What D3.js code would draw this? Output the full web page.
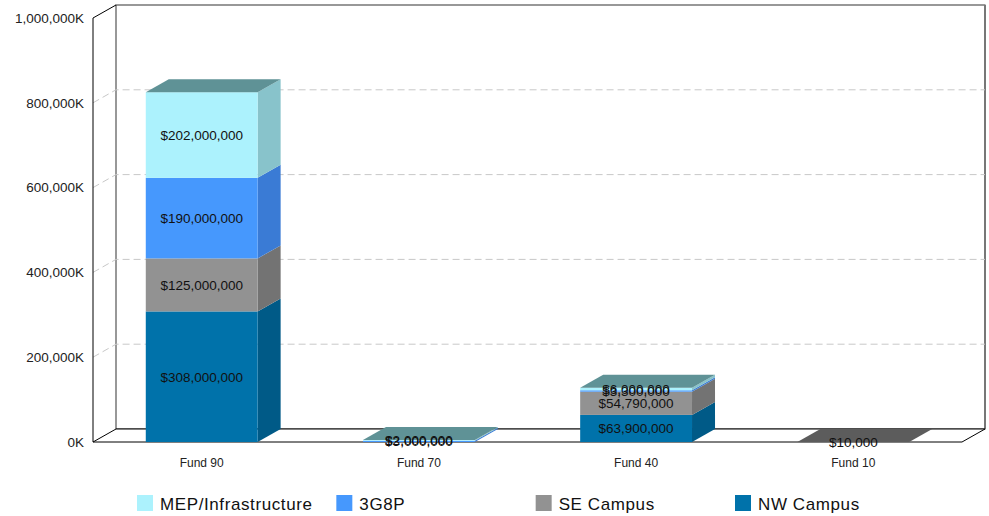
<!DOCTYPE html>
<html>
<head>
<meta charset="utf-8">
<script src="https://cdn.jsdelivr.net/npm/d3@7"></script>
<style>
  body { margin: 0; background: #fff; }
  svg { font-family: "Liberation Sans", Arial, sans-serif; }
</style>
</head>
<body>
<div id="app"></div>
<script>
// data
const funds = ['Fund 90', 'Fund 70', 'Fund 40', 'Fund 10'];
const seriesNames = ['NW Campus', 'SE Campus', '3G8P', 'MEP/Infrastructure'];
const nwCampus = [308000000, 0, 63900000, 0];
const seCampus = [125000000, 0, 54790000, 10000];
const g3g8p = [190000000, 3000000, 3300000, 0];
const mepInfra = [202000000, 2000000, 6000000, 0];
const yTicks = [0, 200000000, 400000000, 600000000, 800000000, 1000000000];
const legendOrder = ['MEP/Infrastructure', '3G8P', 'SE Campus', 'NW Campus'];

const colors = {
  'NW Campus': { front: '#0072aa', side: '#005a87', top: '#005080' },
  'SE Campus': { front: '#929292', side: '#737373', top: '#5c5c5c' },
  '3G8P': { front: '#4698fd', side: '#3a7bd5', top: '#2e65ad' },
  'MEP/Infrastructure': { front: '#acf2fd', side: '#88c3cb', top: '#5f9296' }
};

function render() {
  const width = 989;
  const height = 516;
  const dx = 23, dy = -13;
  const left = 93, right = 962, bottom = 442, top = 18;

  const svg = d3.select('#app').append('svg').attr('width', width).attr('height', height);

  const yScale = d3.scaleLinear([0, 1000000000], [bottom, top]);
  const xScale = d3.scaleBand(funds, [left, right]).paddingInner(0.485).paddingOuter(0.243);

  // back wall
  svg.append('rect')
    .attr('x', left + dx).attr('y', top + dy)
    .attr('width', right - left).attr('height', bottom - top)
    .attr('fill', '#fff').attr('stroke', '#333');
  svg.append('line')
    .attr('x1', right + dx).attr('x2', right + dx)
    .attr('y1', top + dy).attr('y2', bottom + dy)
    .attr('stroke', '#777').attr('stroke-width', 2);

  // grid lines
  const grid = yTicks.filter(d => d > 0 && d < 1000000000);
  svg.selectAll('path.grid').data(grid).join('path')
    .attr('class', 'grid')
    .attr('d', d => `M${left},${yScale(d)}L${left + dx},${yScale(d) + dy}L${right + dx},${yScale(d) + dy}`)
    .attr('fill', 'none').attr('stroke', '#c8c8c8').attr('stroke-dasharray', '7,4');

  // floor
  svg.append('path')
    .attr('d', `M${left},${bottom}L${left + dx},${bottom + dy}L${right + dx},${bottom + dy}L${right},${bottom}Z`)
    .attr('fill', '#fff').attr('stroke', '#000');

  // left axis edge
  svg.append('path')
    .attr('d', `M${left},${bottom}L${left},${top}L${left + dx},${top + dy}`)
    .attr('fill', 'none').attr('stroke', '#000');

  // y tick labels
  const fmt = d3.format(',');
  svg.selectAll('text.ytick').data(yTicks).join('text')
    .attr('class', 'ytick')
    .attr('x', left - 9).attr('y', d => yScale(d))
    .attr('dy', '0.36em')
    .attr('text-anchor', 'end')
    .attr('font-size', 13.5)
    .attr('fill', '#222')
    .text(d => fmt(d / 1000) + 'K');

  // stacked data
  const table = funds.map((f, i) => ({
    fund: f,
    'NW Campus': nwCampus[i],
    'SE Campus': seCampus[i],
    '3G8P': g3g8p[i],
    'MEP/Infrastructure': mepInfra[i]
  }));
  const stacked = d3.stack().keys(seriesNames)(table);

  const bw = xScale.bandwidth();
  const labels = [];
  funds.forEach((f, i) => {
    const x0 = xScale(f);
    const g = svg.append('g').attr('class', 'bar');
    let topKey = null, topVal = 0;
    stacked.forEach(s => {
      const v0 = s[i][0], v1 = s[i][1];
      if (v1 - v0 <= 0) return;
      const c = colors[s.key];
      const yb = yScale(v0), yt = yScale(v1);
      g.append('path')
        .attr('d', `M${x0 + bw},${yb}L${x0 + bw + dx},${yb + dy}L${x0 + bw + dx},${yt + dy}L${x0 + bw},${yt}Z`)
        .attr('fill', c.side);
      g.append('rect')
        .attr('x', x0).attr('y', yt)
        .attr('width', bw).attr('height', Math.max(0, yb - yt))
        .attr('fill', c.front);
      topKey = s.key;
      topVal = v1;
      labels.push({ x: x0 + bw / 2, y: (yb + yt) / 2, v: v1 - v0 });
    });
    if (topKey) {
      const yt = yScale(topVal);
      g.append('path')
        .attr('d', `M${x0},${yt}L${x0 + dx},${yt + dy}L${x0 + bw + dx},${yt + dy}L${x0 + bw},${yt}Z`)
        .attr('fill', colors[topKey].top);
    }
  });

  // value labels (small segments overlap, as in the original)
  svg.selectAll('text.val').data(labels).join('text')
    .attr('class', 'val')
    .attr('x', d => d.x).attr('y', d => d.y)
    .attr('dy', '0.36em')
    .attr('text-anchor', 'middle')
    .attr('font-size', 13.5)
    .attr('fill', '#111')
    .text(d => '$' + fmt(d.v));

  // category labels
  svg.selectAll('text.cat').data(funds).join('text')
    .attr('class', 'cat')
    .attr('x', d => xScale(d) + bw / 2).attr('y', 463)
    .attr('dy', '0.36em')
    .attr('text-anchor', 'middle')
    .attr('font-size', 12)
    .attr('fill', '#222')
    .text(d => d);

  // legend
  const legendX = d3.scalePoint(legendOrder, [137, 735]);
  const lg = svg.selectAll('g.legend').data(legendOrder).join('g')
    .attr('class', 'legend')
    .attr('transform', d => `translate(${legendX(d)},495)`);
  lg.append('rect').attr('width', 16).attr('height', 16).attr('fill', d => colors[d].front);
  lg.append('text')
    .attr('x', 23).attr('y', 9).attr('dy', '0.36em')
    .attr('font-size', 17)
    .attr('letter-spacing', 0.6)
    .attr('fill', '#111')
    .text(d => d);
}

render();
</script>
</body>
</html>
